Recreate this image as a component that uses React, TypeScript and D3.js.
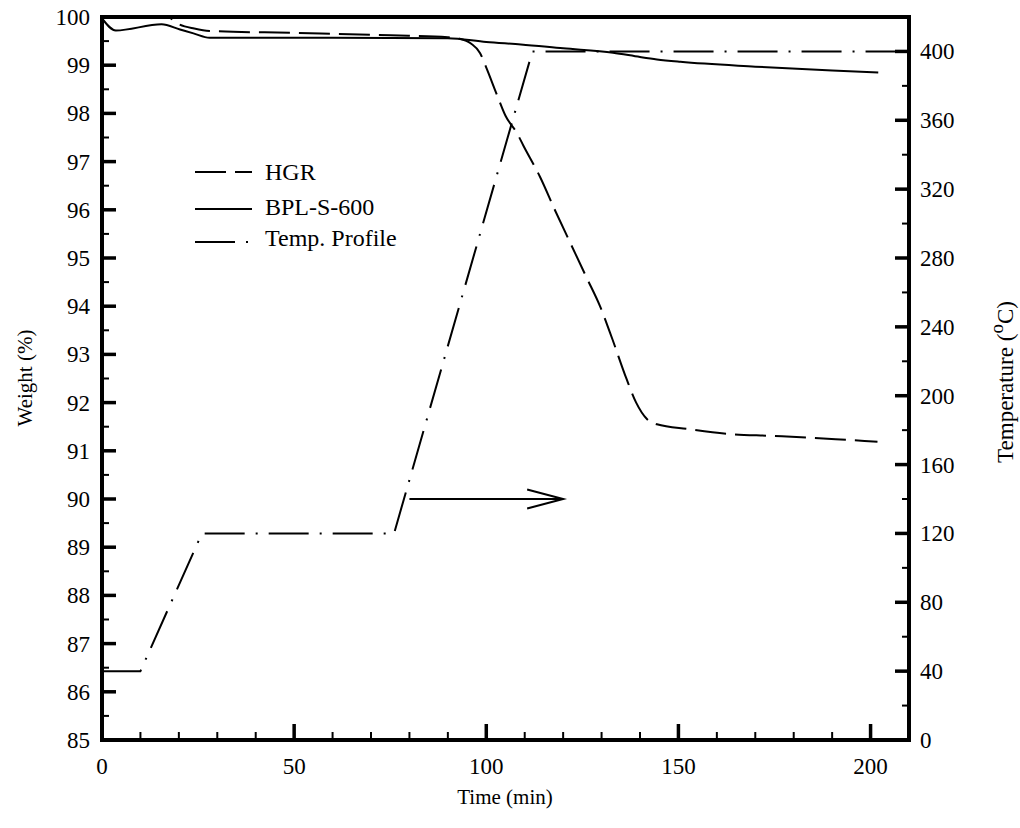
import React from "react";
import * as d3 from "d3";

// ---- Data ----
const hgrTime = [0, 17, 20, 24, 28, 50, 75, 90, 93, 96, 98.4, 100, 102.8, 105, 108, 109.6, 114, 118, 122, 126, 129.7, 132.8, 136.5, 139, 141.8, 144.4, 152.6, 163, 174, 184.8, 195.2, 201.8];
const hgrWeight = [100, 100, 99.85, 99.76, 99.71, 99.67, 99.62, 99.58, 99.55, 99.45, 99.25, 98.95, 98.38, 97.95, 97.59, 97.34, 96.68, 95.97, 95.29, 94.61, 93.98, 93.32, 92.49, 92.0, 91.66, 91.55, 91.45, 91.35, 91.31, 91.27, 91.22, 91.19];

const bplTime = [0, 3.6, 15.5, 20.3, 23.8, 28, 60, 90, 100, 109, 120, 133, 140, 144.4, 150.5, 170, 190, 202];
const bplWeight = [99.97, 99.72, 99.85, 99.74, 99.66, 99.57, 99.57, 99.56, 99.48, 99.43, 99.35, 99.26, 99.17, 99.12, 99.07, 98.97, 98.89, 98.85];

const tempTime = [0, 10, 26, 76, 112, 208.5];
const tempValue = [40, 40, 120, 120, 400, 400];

const xMajorTicks = [0, 50, 100, 150, 200];
const xMinorTicks = d3.range(0, 211, 10);
const wMajorTicks = d3.range(85, 100.01, 1);
const wMinorTicks = d3.range(85, 100.01, 0.5);
const tMajorTicks = d3.range(0, 401, 40);
const tMinorTicks = d3.range(0, 421, 20);

const legendLabels = ["HGR", "BPL-S-600", "Temp. Profile"];
const arrowStart = [80, 90];
const arrowEnd = [120, 90];

const FONT = "'Liberation Serif', 'Times New Roman', serif";

export default function App() {
  const x = d3.scaleLinear().domain([0, 210]).range([102, 909]);
  const yW = d3.scaleLinear().domain([85, 100]).range([740, 17]);
  const yT = d3.scaleLinear().domain([0, 420]).range([740, 17]);

  const wLine = d3
    .line<[number, number]>()
    .x((d) => x(d[0]))
    .y((d) => yW(d[1]))
    .curve(d3.curveMonotoneX);
  const tLine = d3
    .line<[number, number]>()
    .x((d) => x(d[0]))
    .y((d) => yT(d[1]));

  const hgr = hgrTime.map((t, i) => [t, hgrWeight[i]] as [number, number]);
  const bpl = bplTime.map((t, i) => [t, bplWeight[i]] as [number, number]);
  const temp = tempTime.map((t, i) => [t, tempValue[i]] as [number, number]);

  const hgrDash = "31,9";
  const tempDash = "40,11,2,11";

  const legendY = [172, 209, 242];
  const legendTextY = [180, 215, 246];
  const legendDash = [hgrDash, null, tempDash];

  const ax1 = x(arrowStart[0]);
  const ay = yW(arrowStart[1]);
  const ax2 = x(arrowEnd[0]);

  return (
    <svg
      width={1020}
      height={828}
      style={{ position: "absolute", left: 0, top: 0, background: "#fff" }}
      fontFamily={FONT}
    >
      <rect x={0} y={0} width={1020} height={828} fill="#fff" />

      {/* data lines */}
      <path d={tLine(temp) || ""} fill="none" stroke="#000" strokeWidth={2} strokeDasharray={tempDash} />
      <path d={wLine(hgr) || ""} fill="none" stroke="#000" strokeWidth={2} strokeDasharray={hgrDash} />
      <path d={wLine(bpl) || ""} fill="none" stroke="#000" strokeWidth={2} />

      {/* arrow */}
      <line x1={ax1} y1={ay} x2={ax2} y2={ay} stroke="#000" strokeWidth={2} />
      <polyline
        points={`${ax2 - 36},${ay - 9.5} ${ax2},${ay} ${ax2 - 36},${ay + 9.5}`}
        fill="none"
        stroke="#000"
        strokeWidth={2}
      />

      {/* ticks: bottom */}
      {xMinorTicks.map((t) => (
        <line key={"xm" + t} x1={x(t)} x2={x(t)} y1={740} y2={732} stroke="#000" strokeWidth={2} />
      ))}
      {xMajorTicks.map((t) => (
        <line key={"xM" + t} x1={x(t)} x2={x(t)} y1={740} y2={724} stroke="#000" strokeWidth={3.5} />
      ))}
      {/* ticks: left */}
      {wMinorTicks.map((t) => (
        <line key={"wm" + t} x1={102} x2={109} y1={yW(t)} y2={yW(t)} stroke="#000" strokeWidth={2} />
      ))}
      {wMajorTicks.map((t) => (
        <line key={"wM" + t} x1={102} x2={116} y1={yW(t)} y2={yW(t)} stroke="#000" strokeWidth={3.5} />
      ))}
      {/* ticks: right */}
      {tMinorTicks.map((t) => (
        <line key={"tm" + t} x1={909} x2={902} y1={yT(t)} y2={yT(t)} stroke="#000" strokeWidth={2} />
      ))}
      {tMajorTicks.map((t) => (
        <line key={"tM" + t} x1={909} x2={895} y1={yT(t)} y2={yT(t)} stroke="#000" strokeWidth={3.5} />
      ))}

      {/* frame */}
      <rect x={102} y={17} width={807} height={723} fill="none" stroke="#000" strokeWidth={4} />

      {/* tick labels */}
      {xMajorTicks.map((t) => (
        <text key={"xl" + t} x={x(t)} y={774} fontSize={23} textAnchor="middle">
          {t}
        </text>
      ))}
      {wMajorTicks.map((t) => (
        <text key={"wl" + t} x={90} y={yW(t)} dy="0.35em" fontSize={23} textAnchor="end">
          {t}
        </text>
      ))}
      {tMajorTicks.map((t) => (
        <text key={"tl" + t} x={920} y={yT(t)} dy="0.35em" fontSize={23} textAnchor="start">
          {t}
        </text>
      ))}

      {/* axis titles */}
      <text x={505} y={804} fontSize={21} textAnchor="middle">
        Time (min)
      </text>
      <text transform="translate(32,378) rotate(-90)" fontSize={21} textAnchor="middle">
        Weight (%)
      </text>
      <text transform="translate(1013,382) rotate(-90)" fontSize={23} textAnchor="middle">
        Temperature (
        <tspan dy={-10} fontSize={19}>o</tspan>
        <tspan dy={10}>C)</tspan>
      </text>

      {/* legend */}
      {legendLabels.map((lab, i) => (
        <g key={lab}>
          <line
            x1={195}
            x2={252}
            y1={legendY[i]}
            y2={legendY[i]}
            stroke="#000"
            strokeWidth={2}
            strokeDasharray={legendDash[i] || undefined}
          />
          <text x={265} y={legendTextY[i]} fontSize={24}>
            {lab}
          </text>
        </g>
      ))}
    </svg>
  );
}
